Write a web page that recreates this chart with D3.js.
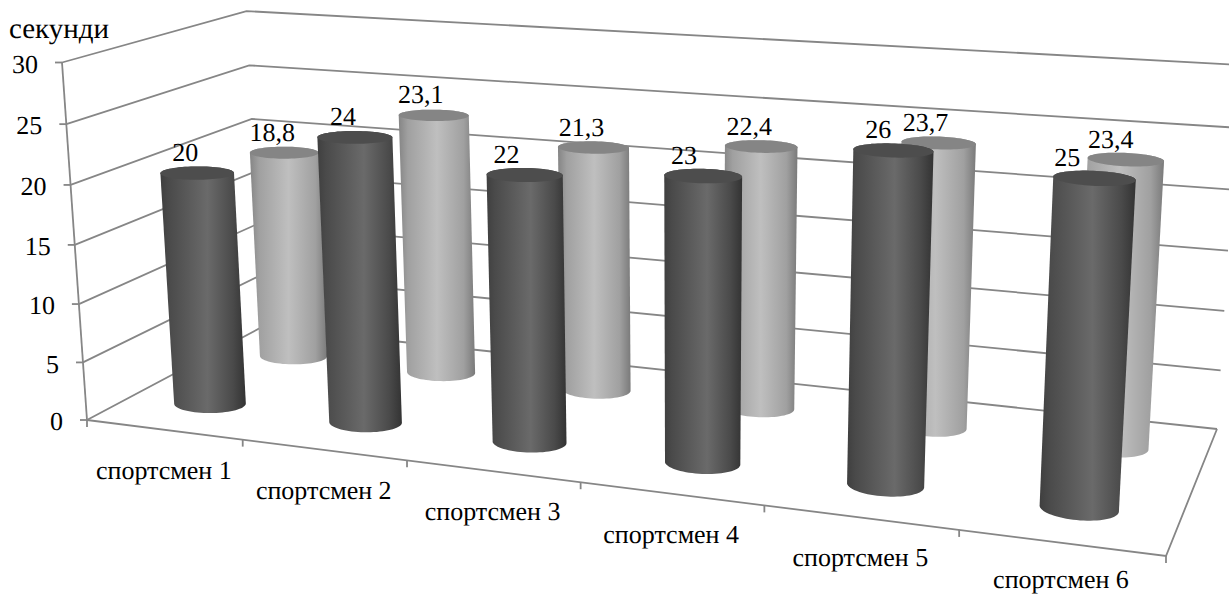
<!DOCTYPE html>
<html>
<head>
<meta charset="utf-8">
<script src="https://d3js.org/d3.v7.min.js"></script>
<style>
  html, body { margin: 0; padding: 0; background: #fff; }
  svg { display: block; text-rendering: geometricPrecision; }
</style>
</head>
<body>
<div class="chart"></div>
<script>
const categories = ["спортсмен 1", "спортсмен 2", "спортсмен 3", "спортсмен 4", "спортсмен 5", "спортсмен 6"];
const seriesNames = ["перша", "друга"];
const frontValues = [20, 24, 22, 23, 26, 25];
const backValues = [18.8, 23.1, 21.3, 22.4, 23.7, 23.4];
const valueTicks = [0, 5, 10, 15, 20, 25, 30];

const width = 1229, height = 594;
const textFont = "'Liberation Serif'";

// floor of the 3D box on the page: front-left, front-right, back-right, back-left
const floorCorners = [[87, 420], [1166, 556], [1217, 429], [262, 327]];
// where the vertical edges of the box meet, and how strong that pull is
const vanish = [687, 9000], pull = -0.04;

// unit square -> quad in homogeneous form, so walls and bars share one perspective
function quadMap(q) {
  const [x0, y0] = q[0], [x1, y1] = q[1], [x2, y2] = q[2], [x3, y3] = q[3];
  const dx1 = x1 - x2, dx2 = x3 - x2, sx = x0 - x1 + x2 - x3;
  const dy1 = y1 - y2, dy2 = y3 - y2, sy = y0 - y1 + y2 - y3;
  const den = dx1 * dy2 - dx2 * dy1;
  const g = (sx * dy2 - dx2 * sy) / den;
  const h = (dx1 * sy - sx * dy1) / den;
  const a = x1 - x0 + g * x1, b = x3 - x0 + h * x3;
  const d = y1 - y0 + g * y1, e = y3 - y0 + h * y3;
  return function(u, v) {
    return [a * u + b * v + x0, d * u + e * v + y0, g * u + h * v + 1];
  };
}
const floorMap = quadMap(floorCorners);

const xScale = d3.scaleBand().domain(categories).range([0, 1]);
const zScale = d3.scaleBand().domain(seriesNames).range([0, 1]);
const yScale = d3.scaleLinear().domain([0, 30]).range([0, pull]);

function project(u, v, value) {
  const p = floorMap(u, v), t = yScale(value);
  return [(p[0] + t * vanish[0]) / (p[2] + t), (p[1] + t * vanish[1]) / (p[2] + t)];
}

const svg = d3.select(".chart").append("svg")
  .attr("width", width)
  .attr("height", height);

const defs = svg.append("defs");
function addGradient(id, stops) {
  const grad = defs.append("linearGradient").attr("id", id);
  stops.forEach(function(s) {
    grad.append("stop").attr("offset", s[0]).attr("stop-color", s[1]);
  });
}
addGradient("darkBody", [[0, "#3f3f3f"], [0.1, "#4a4a4a"], [0.55, "#6a6a6a"], [0.85, "#4a4a4a"], [1, "#333333"]]);
addGradient("lightBody", [[0, "#858585"], [0.12, "#a0a0a0"], [0.5, "#bfbfbf"], [0.85, "#a0a0a0"], [1, "#7a7a7a"]]);

const line = d3.line();
const axisColor = "#868686";

// gridlines on the left and back walls
valueTicks.forEach(function(t) {
  svg.append("path")
    .attr("d", line([project(0, 0, t), project(0, 1, t), project(1, 1, t)]))
    .attr("fill", "none")
    .attr("stroke", axisColor)
    .attr("stroke-width", 1.8);
});

// value axis
svg.append("path")
  .attr("d", line([project(0, 0, 0), project(0, 0, 30)]))
  .attr("stroke", axisColor)
  .attr("stroke-width", 1.8);
valueTicks.forEach(function(t) {
  const p = project(0, 0, t);
  svg.append("path")
    .attr("d", line([[p[0] - 7, p[1]], p]))
    .attr("stroke", axisColor)
    .attr("stroke-width", 1.8);
  svg.append("text")
    .attr("x", p[0] - 24)
    .attr("y", p[1] + 1)
    .attr("dy", "0.35em")
    .attr("text-anchor", "end")
    .style("font-family", textFont)
    .attr("font-size", 26)
    .text(t);
});

// floor edges
svg.append("path")
  .attr("d", line([project(0, 0, 0), project(1, 0, 0), project(1, 1, 0)]))
  .attr("fill", "none")
  .attr("stroke", axisColor)
  .attr("stroke-width", 1.8);

const step = xScale.step();
d3.range(categories.length + 1).forEach(function(i) {
  const p = project(i * step, 0, 0);
  svg.append("path")
    .attr("d", line([p, [p[0], p[1] + 7]]))
    .attr("stroke", axisColor)
    .attr("stroke-width", 1.8);
});

categories.forEach(function(c) {
  const p = project(xScale(c) + xScale.bandwidth() / 2, 0, 0);
  svg.append("text")
    .attr("x", p[0])
    .attr("y", Math.min(p[1] + 49, height - 6)) // last label sits right on the page edge
    .attr("text-anchor", "middle")
    .style("font-family", textFont)
    .attr("font-size", 26)
    .text(c);
});

svg.append("text")
  .attr("x", 9)
  .attr("y", 38)
  .style("font-family", textFont)
  .attr("font-size", 29)
  .text("секунди");

// cylinders, back row first
const radiusU = d3.scaleLinear().domain([0, 1]).range([0.036, 0.0325]), radiusV = 0.085;
const angles = d3.range(0, 2 * Math.PI, Math.PI / 36);
function ring(u, v, value) {
  return angles.map(function(a) {
    return project(u + radiusU(u) * Math.cos(a), v + radiusV * Math.sin(a), value);
  });
}
const frontLabelDx = [-12, -12, -18, -19, -15, -27];
const backLabelDx = [-12, -13, -12, -12, -13, -15];

function drawRow(values, name, bodyId, capColor, labelDx) {
  const v = zScale(name) + zScale.bandwidth() / 2;
  values.forEach(function(val, i) {
    const u = xScale(categories[i]) + xScale.bandwidth() / 2;
    const capRing = ring(u, v, val);
    svg.append("path")
      .attr("d", line(d3.polygonHull(ring(u, v, 0).concat(capRing))) + "Z")
      .attr("fill", "url(#" + bodyId + ")");
    svg.append("path")
      .attr("d", line(capRing) + "Z")
      .attr("fill", capColor);
    const top = project(u, v, val);
    svg.append("text")
      .attr("x", top[0] + labelDx[i])
      .attr("y", top[1] - 21)
      .attr("dy", "0.35em")
      .attr("text-anchor", "middle")
      .style("font-family", textFont)
      .attr("font-size", 26)
      .text(String(val).replace(".", ","));
  });
}
drawRow(backValues, seriesNames[1], "lightBody", "#858585", backLabelDx);
drawRow(frontValues, seriesNames[0], "darkBody", "#4d4d4d", frontLabelDx);
</script>
</body>
</html>
